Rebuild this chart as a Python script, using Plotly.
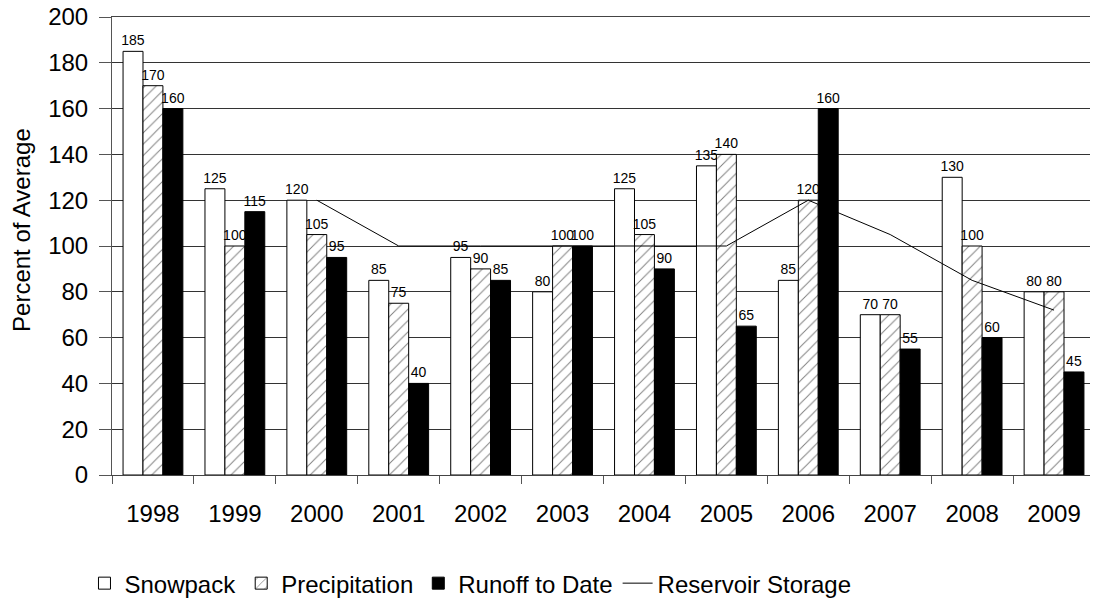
import plotly.graph_objects as go

years = ["1998", "1999", "2000", "2001", "2002", "2003", "2004", "2005", "2006", "2007", "2008", "2009"]
snowpack = [185, 125, 120, 85, 95, 80, 125, 135, 85, 70, 130, 80]
precipitation = [170, 100, 105, 75, 90, 100, 105, 140, 120, 70, 100, 80]
runoff = [160, 115, 95, 40, 85, 100, 90, 65, 160, 55, 60, 45]
reservoir = [None, None, 120, 100, 100, 100, 100, 100, 120, 105, 85, 72]

FONT = "Liberation Sans, Arial, Helvetica, sans-serif"
lbl = dict(size=14, color="black", family=FONT)

fig = go.Figure()
fig.add_trace(go.Bar(
    x=years, y=snowpack, name="Snowpack",
    marker=dict(color="white", line=dict(color="black", width=1)),
    text=snowpack, textposition="outside", textfont=lbl, cliponaxis=False,
))
fig.add_trace(go.Bar(
    x=years, y=precipitation, name="Precipitation",
    marker=dict(color="white", line=dict(color="black", width=1),
                pattern=dict(shape="/", fgcolor="black", bgcolor="white", size=8, solidity=0.12)),
    text=precipitation, textposition="outside", textfont=lbl, cliponaxis=False,
))
fig.add_trace(go.Bar(
    x=years, y=runoff, name="Runoff to Date",
    marker=dict(color="black", line=dict(color="black", width=1)),
    text=runoff, textposition="outside", textfont=lbl, cliponaxis=False,
))
fig.add_trace(go.Scatter(
    x=years, y=reservoir, name="Reservoir Storage", mode="lines",
    line=dict(color="black", width=1), connectgaps=False,
))

fig.update_layout(
    width=1098, height=599,
    margin=dict(l=104, r=11, t=9, b=132, autoexpand=False),
    paper_bgcolor="white", plot_bgcolor="white",
    font=dict(family=FONT, size=24, color="black"),
    barmode="group", bargap=0.27, bargroupgap=0,
    uniformtext=dict(minsize=13, mode="show"),
    legend=dict(orientation="h", x=-0.028, xanchor="left", y=-0.237, yanchor="middle",
                font=dict(size=24, family=FONT), itemwidth=30, tracegroupgap=0,
                valign="top"),
    xaxis=dict(
        type="category", showgrid=False, showline=True, linecolor="#444", linewidth=1,
        mirror=True,
        ticks="outside", tickson="boundaries", ticklen=8, tickcolor="#555",
        ticklabelstandoff=17, tickfont=dict(size=24),
    ),
    yaxis=dict(
        range=[0, 200], dtick=20, showgrid=True, gridcolor="#333", gridwidth=1,
        showline=True, linecolor="#555", linewidth=1, ticks="outside", ticklen=12,
        tickcolor="#555", tickfont=dict(size=24), zeroline=False, ticklabelstandoff=6,
        ticklabeloverflow="allow",
    ),
    annotations=[dict(
        text="Percent of Average", textangle=-90, showarrow=False,
        xref="paper", yref="paper", x=0, y=0.535, xanchor="center", yanchor="middle",
        xshift=-90, font=dict(size=24, family=FONT, color="black"),
    )],
)

fig.write_html("out.html")
